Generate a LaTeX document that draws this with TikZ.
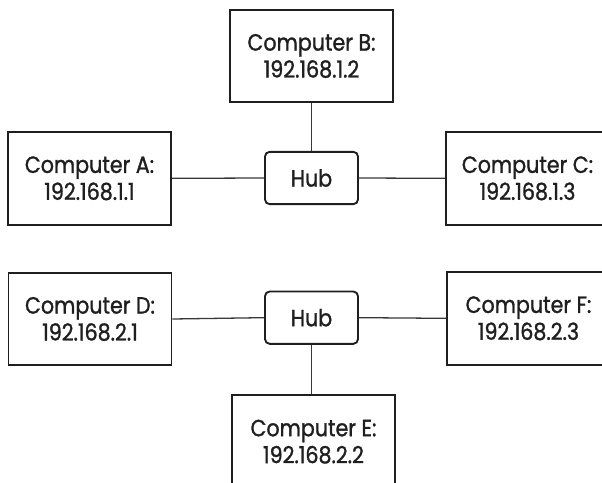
\documentclass[tikz,border=0pt]{standalone}
\usepackage{fontspec}
\setmainfont[FakeStretch=0.88,FakeBold=1.2]{Poppins}
\usetikzlibrary{positioning}

\tikzset{
  comp/.style={draw=black!88,line width=1.6pt,minimum width=4.89cm,minimum height=2.78cm,align=center,text=black!88,font=\fontsize{20}{23}\selectfont},
  hubbox/.style={draw=black!88,line width=1.6pt,rounded corners=4pt,minimum width=2.79cm,minimum height=1.57cm,text=black!88,font=\fontsize{20}{23}\selectfont},
  wire/.style={draw=black!78,line width=1.1pt}
}

\begin{document}
\begin{tikzpicture}
\useasboundingbox (0,0) rectangle (18.06,-14.49);
\node[comp] (b) at (9.345,-1.68) {Computer B:\\192.168.1.2};
\node[comp] (a) at (2.685,-5.35) {Computer A:\\192.168.1.1};
\node[hubbox] (hub1) at (9.345,-5.34) {Hub};
\node[comp] (c) at (15.825,-5.35) {Computer C:\\192.168.1.3};
\node[comp] (d) at (2.7,-9.57) {Computer D:\\192.168.2.1};
\node[hubbox] (hub2) at (9.345,-9.53) {Hub};
\node[comp] (f) at (15.855,-9.55) {Computer F:\\192.168.2.3};
\node[comp] (e) at (9.405,-13.25) {Computer E:\\192.168.2.2};
\draw[wire] (a.east) -- (hub1.west);
\draw[wire] (hub1.east) -- (c.west);
\draw[wire] (b.south) -- (hub1.north);
\draw[wire] (d.east) -- (hub2.west);
\draw[wire] (hub2.east) -- (f.west);
\draw[wire] (hub2.south) -- (hub2.south |- e.north);
\end{tikzpicture}
\end{document}
